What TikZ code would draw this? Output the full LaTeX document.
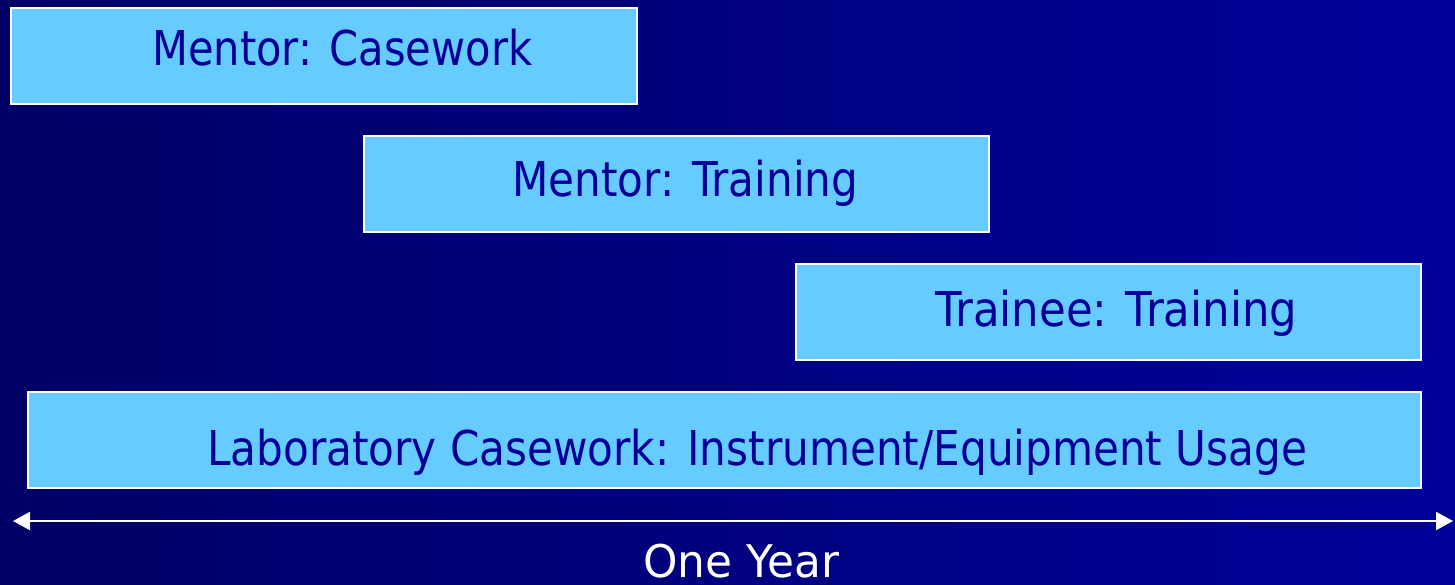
\documentclass[tikz,border=0pt]{standalone}
\usepackage{fontspec}
\setmainfont{DejaVu Sans}
\usepackage{graphicx}
\usetikzlibrary{arrows.meta}
\definecolor{bgl}{RGB}{0,0,102}
\definecolor{bgr}{RGB}{0,0,153}
\definecolor{boxfill}{RGB}{102,204,255}
\definecolor{txt}{RGB}{0,0,153}
\newcommand{\fitw}[2]{\resizebox{#1}{\height}{#2}}
\begin{document}
\begin{tikzpicture}[x=1pt,y=-1pt,
  barbox/.style={draw=white, line width=1.8pt, fill=boxfill, inner sep=0pt, outer sep=0pt, anchor=north west},
  bartext/.style={text=txt, font=\fontsize{48}{56}\selectfont, inner sep=0pt, anchor=base west},
  yeartext/.style={text=white, font=\fontsize{45}{52}\selectfont, inner sep=0pt, anchor=base west}]
\shade[left color=bgl, right color=bgr] (0,0) rectangle (1455,585);
\useasboundingbox (0,0) rectangle (1455,585);
% boxes
\node[barbox, minimum width=626pt, minimum height=96pt] (b1) at (11,8) {};
\node[barbox, minimum width=625pt, minimum height=96pt] (b2) at (364,136) {};
\node[barbox, minimum width=625pt, minimum height=96pt] (b3) at (796,264) {};
\node[barbox, minimum width=1393pt, minimum height=96pt] (b4) at (28,392) {};
% texts
\node[bartext] (t1) at (152,66) {\fitw{380pt}{Mentor: Casework}};
\node[bartext] (t2) at (512,197) {\fitw{346pt}{Mentor: Training}};
\node[bartext] (t3) at (935,326) {\fitw{362pt}{Trainee: Training}};
\node[bartext] (t4) at (207,465) {\fitw{1100pt}{Laboratory Casework: Instrument/Equipment Usage}};
% arrow
\coordinate (aL) at (13,521);
\coordinate (aR) at (1453,521);
\draw[white, line width=2pt, {Triangle[length=17pt,width=18pt]}-{Triangle[length=17pt,width=18pt]}] (aL) -- (aR);
\node[yeartext] (yr) at (643,577) {\fitw{196pt}{One Year}};
\end{tikzpicture}
\end{document}
